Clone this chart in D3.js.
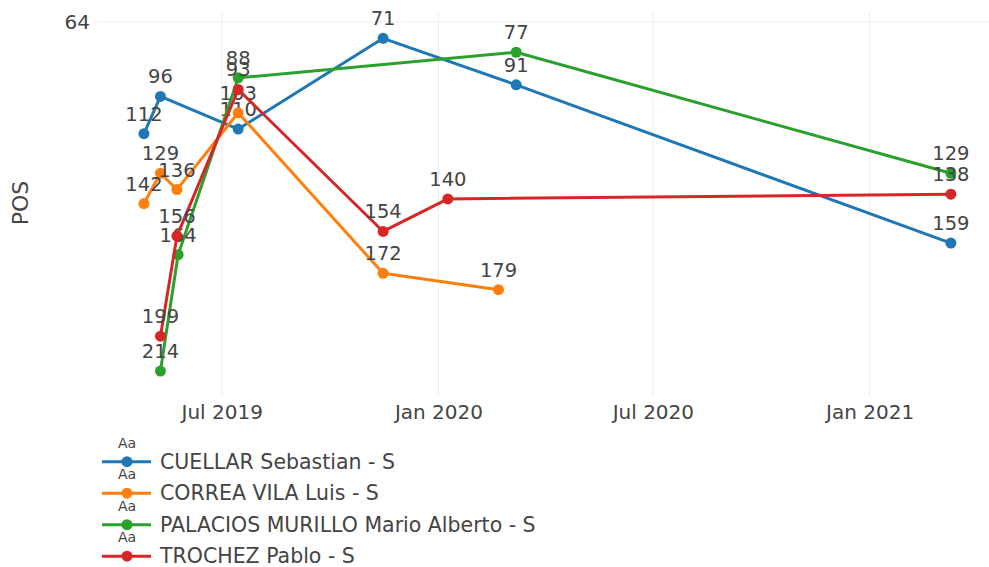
<!DOCTYPE html>
<html>
<head>
<meta charset="utf-8">
<script src="https://cdn.jsdelivr.net/npm/d3@7"></script>
<style>
  html, body { margin: 0; padding: 0; background: #fff; }
  svg { display: block; }
  text { font-family: "DejaVu Sans", Verdana, sans-serif; fill: #444; }
</style>
</head>
<body>
<svg id="chart" width="989" height="567"></svg>
<script>
// ---- Data ----
const seriesNames = [
  "CUELLAR Sebastian - S",
  "CORREA VILA Luis - S",
  "PALACIOS MURILLO Mario Alberto - S",
  "TROCHEZ Pablo - S"
];
const seriesColors = ["#1f77b4", "#ff7f0e", "#2ca02c", "#d62728"];

const cuellarDates = ["2019-04-26", "2019-05-10", "2019-07-15", "2019-11-15", "2020-03-07", "2021-03-11"];
const cuellarPos   = [112, 96, 110, 71, 91, 159];

const correaDates = ["2019-04-26", "2019-05-10", "2019-05-24", "2019-07-15", "2019-11-15", "2020-02-21"];
const correaPos   = [142, 129, 136, 103, 172, 179];

const palaciosDates = ["2019-05-10", "2019-05-25", "2019-07-15", "2020-03-07", "2021-03-11"];
const palaciosPos   = [214, 164, 88, 77, 129];

const trochezDates = ["2019-05-10", "2019-05-24", "2019-07-15", "2019-11-15", "2020-01-09", "2021-03-11"];
const trochezPos   = [199, 156, 93, 154, 140, 138];

const xTickDates = ["2019-07-01", "2020-01-01", "2020-07-01", "2021-01-01"];
const yTickValues = [64];
const yTitle = "POS";

// ---- Build ----
const parse = d3.timeParse("%Y-%m-%d");
const allDates = [cuellarDates, correaDates, palaciosDates, trochezDates];
const allPos = [cuellarPos, correaPos, palaciosPos, trochezPos];
const series = seriesNames.map((name, i) => ({
  name,
  color: seriesColors[i],
  points: allDates[i].map((d, j) => ({ date: parse(d), pos: allPos[i][j] }))
}));

const svg = d3.select("#chart");
const plotLeft = 93, plotRight = 989, plotTop = 12, plotBottom = 396;

const x = d3.scaleTime()
  .domain([parse("2019-07-01"), parse("2021-01-01")])
  .range([221.7, 869.6]);
const y = d3.scaleLinear()
  .domain([59.7, 224.7])
  .range([plotTop, plotBottom]);

// grid
const xTicks = xTickDates.map(parse);
svg.append("g").selectAll("line").data(xTicks).join("line")
  .attr("x1", d => x(d)).attr("x2", d => x(d))
  .attr("y1", plotTop).attr("y2", plotBottom)
  .attr("stroke", "#eee").attr("stroke-width", 1);
svg.append("g").selectAll("line").data(yTickValues).join("line")
  .attr("x1", plotLeft).attr("x2", plotRight)
  .attr("y1", d => y(d)).attr("y2", d => y(d))
  .attr("stroke", "#eee").attr("stroke-width", 1);

// axes
const xAxis = svg.append("g")
  .attr("transform", `translate(0,${plotBottom})`)
  .call(d3.axisBottom(x).tickValues(xTicks).tickFormat(d3.timeFormat("%b %Y")).tickSize(0).tickPadding(9));
xAxis.select(".domain").remove();
xAxis.selectAll("text").style("font-size", "20px").attr("fill", "#444").style("font-family", "'DejaVu Sans', Verdana, sans-serif");

const yAxis = svg.append("g")
  .attr("transform", `translate(${plotLeft},0)`)
  .call(d3.axisLeft(y).tickValues(yTickValues).tickSize(0).tickPadding(3));
yAxis.select(".domain").remove();
yAxis.selectAll("text").style("font-size", "20px").attr("fill", "#444").style("font-family", "'DejaVu Sans', Verdana, sans-serif");

svg.append("text")
  .attr("transform", "translate(20,203) rotate(-90)")
  .attr("text-anchor", "middle")
  .attr("dy", "0.35em")
  .style("font-size", "22px")
  .text(yTitle);

// traces
const line = d3.line().x(d => x(d.date)).y(d => y(d.pos));
series.forEach(s => {
  const g = svg.append("g");
  g.append("path")
    .attr("d", line(s.points))
    .attr("fill", "none")
    .attr("stroke", s.color)
    .attr("stroke-width", 3)
    .attr("stroke-linejoin", "round");
  g.selectAll("circle").data(s.points).join("circle")
    .attr("cx", d => x(d.date)).attr("cy", d => y(d.pos))
    .attr("r", 5.5)
    .attr("fill", s.color);
  g.selectAll("text").data(s.points).join("text")
    .attr("x", d => x(d.date)).attr("y", d => y(d.pos) - 13)
    .attr("text-anchor", "middle")
    .style("font-size", "19.5px")
    .text(d => d.pos);
});

// legend
const legend = svg.append("g");
series.forEach((s, i) => {
  const cy = 461.7 + i * 31.5;
  const g = legend.append("g");
  g.append("text")
    .attr("x", 127).attr("y", cy - 19)
    .attr("text-anchor", "middle").attr("dy", "0.35em")
    .style("font-size", "14px")
    .text("Aa");
  g.append("line")
    .attr("x1", 102).attr("x2", 151).attr("y1", cy).attr("y2", cy)
    .attr("stroke", s.color).attr("stroke-width", 3);
  g.append("circle").attr("cx", 127).attr("cy", cy).attr("r", 5.5).attr("fill", s.color);
  g.append("text")
    .attr("x", 160).attr("y", cy).attr("dy", "0.35em")
    .style("font-size", "20.5px")
    .text(s.name);
});
</script>
</body>
</html>
